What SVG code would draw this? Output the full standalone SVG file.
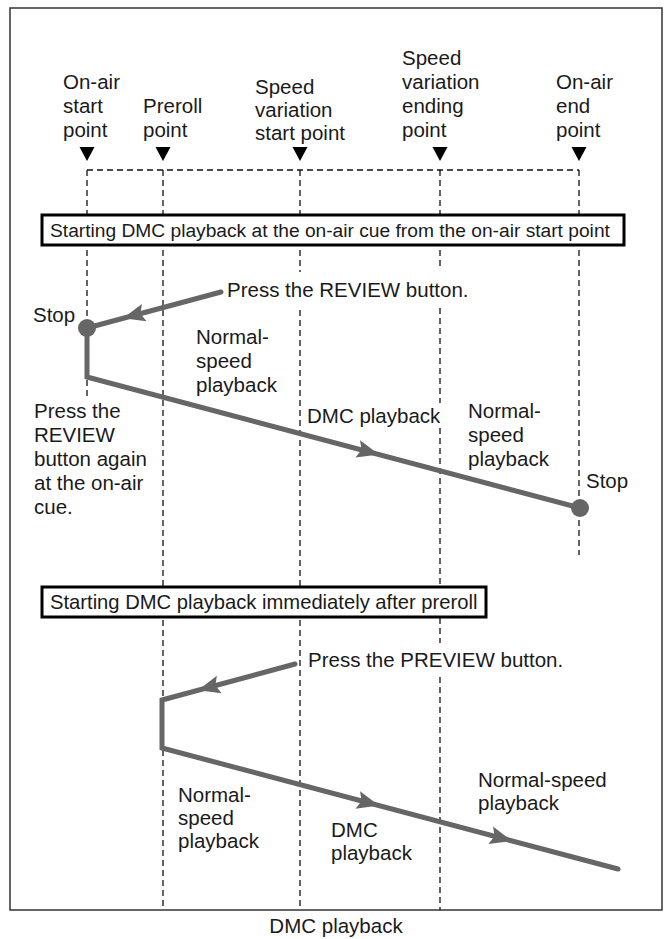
<svg xmlns="http://www.w3.org/2000/svg" width="666" height="939" viewBox="0 0 666 939">
<style>
.t{font-family:"Liberation Sans",Arial,sans-serif;font-size:20.5px;fill:#1a1a1a}
.d{stroke:#111;stroke-width:1.3;stroke-dasharray:6 4;fill:none}
.p{stroke:#666;stroke-width:5;fill:none;stroke-linejoin:miter;stroke-linecap:round}
.box{fill:#fff;stroke:#000;stroke-width:3}
</style>
<defs>
<path id="ah" d="M0,0 L-22,-9 L-18,0 L-22,9 Z" fill="#666"/>
<path id="tri" d="M-7.5,0 L7.5,0 L0,14 Z" fill="#000"/>
</defs>
<rect x="10" y="8" width="652" height="902" fill="#fff" stroke="#333" stroke-width="1.5"/>
<g id="connectors">
<path class="d" d="M87,170 H579"/>
<path class="d" d="M87,170 V398"/>
<path class="d" d="M163,170 V910"/>
<path class="d" d="M300,170 V272 M300,310 V910"/>
<path class="d" d="M440,170 V268 M440,308 V403 M440,428 V643 M440,677 V910"/>
<path class="d" d="M579,170 V555"/>
<polyline class="p" points="221,292 87,328 87,377 580,508"/>
<use href="#ah" transform="translate(123,318.3) rotate(164.96)"/>
<use href="#ah" transform="translate(379,454.5) rotate(14.9)"/>
<circle cx="87" cy="328" r="9" fill="#666"/>
<circle cx="580" cy="508" r="9" fill="#666"/>
<polyline class="p" points="295,664 162,700 162,748 618,869"/>
<use href="#ah" transform="translate(198,690.3) rotate(164.85)"/>
<use href="#ah" transform="translate(379,805.6) rotate(14.86)"/>
<use href="#ah" transform="translate(512,840.9) rotate(14.86)"/>
</g>
<g id="markers">
<use href="#tri" transform="translate(87,147)"/>
<use href="#tri" transform="translate(163,147)"/>
<use href="#tri" transform="translate(300,147)"/>
<use href="#tri" transform="translate(440,147)"/>
<use href="#tri" transform="translate(579,147)"/>
</g>
<g id="label-onair-start"><text class="t" x="63" y="89">On-air</text><text class="t" x="63" y="113">start</text><text class="t" x="63" y="137">point</text></g>
<g id="label-preroll"><text class="t" x="143" y="113">Preroll</text><text class="t" x="143" y="137">point</text></g>
<g id="label-speed-start"><text class="t" x="255" y="94">Speed</text><text class="t" x="255" y="117">variation</text><text class="t" x="255" y="140">start point</text></g>
<g id="label-speed-end"><text class="t" x="402" y="65">Speed</text><text class="t" x="402" y="89">variation</text><text class="t" x="402" y="113">ending</text><text class="t" x="402" y="137">point</text></g>
<g id="label-onair-end"><text class="t" x="556" y="89">On-air</text><text class="t" x="556" y="113">end</text><text class="t" x="556" y="137">point</text></g>
<g id="box1"><rect class="box" x="42" y="215" width="582" height="30"/><text class="t" x="50" y="237" style="font-size:19.2px">Starting DMC playback at the on-air cue from the on-air start point</text></g>
<g id="review-label"><text class="t" x="227" y="297">Press the REVIEW button.</text></g>
<g id="stop1"><text class="t" x="33" y="322">Stop</text></g>
<g id="normal1"><text class="t" x="196" y="344">Normal-</text><text class="t" x="196" y="368">speed</text><text class="t" x="196" y="392">playback</text></g>
<g id="press-again"><text class="t" x="34" y="418">Press the</text><text class="t" x="34" y="442">REVIEW</text><text class="t" x="34" y="466">button again</text><text class="t" x="34" y="490">at the on-air</text><text class="t" x="34" y="514">cue.</text></g>
<g id="dmc1"><text class="t" x="307" y="423">DMC playback</text></g>
<g id="normal2"><text class="t" x="468" y="418">Normal-</text><text class="t" x="468" y="442">speed</text><text class="t" x="468" y="466">playback</text></g>
<g id="stop2"><text class="t" x="586" y="488">Stop</text></g>
<g id="box2"><rect class="box" x="42" y="587" width="444" height="30"/><text class="t" x="50" y="609" style="font-size:20.2px">Starting DMC playback immediately after preroll</text></g>
<g id="preview-label"><text class="t" x="308" y="667">Press the PREVIEW button.</text></g>
<g id="normal3"><text class="t" x="178" y="802">Normal-</text><text class="t" x="178" y="825">speed</text><text class="t" x="178" y="848">playback</text></g>
<g id="dmc2"><text class="t" x="331" y="837">DMC</text><text class="t" x="331" y="860">playback</text></g>
<g id="normal4"><text class="t" x="478" y="787">Normal-speed</text><text class="t" x="478" y="810">playback</text></g>
<g id="caption"><text class="t" x="336" y="933" text-anchor="middle">DMC playback</text></g>
</svg>
